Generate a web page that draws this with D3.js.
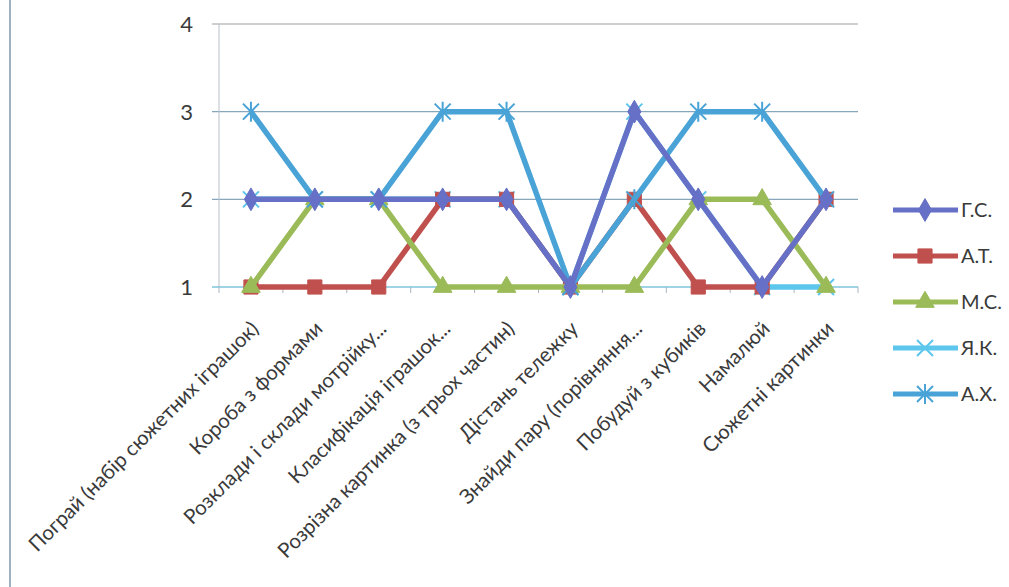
<!DOCTYPE html>
<html>
<head>
<meta charset="utf-8">
<script src="https://cdn.jsdelivr.net/npm/d3@7"></script>
<style>
  body { margin: 0; background: #fff; }
  text { font-family: Lato, "Open Sans", sans-serif; fill: #3a3a3a; }
</style>
</head>
<body>
<svg id="chart" width="1009" height="587"></svg>
<script>
const categories = [
    "Пограй (набір сюжетних іграшок)",
    "Короба з формами",
    "Розклади і склади мотрійку...",
    "Класифікація іграшок...",
    "Розрізна картинка (з трьох частин)",
    "Дістань тележку",
    "Знайди пару (порівняння...",
    "Побудуй з кубиків",
    "Намалюй",
    "Сюжетні картинки"
];
const seriesNames = ["Г.С.", "А.Т.", "М.С.", "Я.К.", "А.Х."];
const gsValues = [2, 2, 2, 2, 2, 1, 3, 2, 1, 2];
const atValues = [1, 1, 1, 2, 2, 1, 2, 1, 1, 2];
const msValues = [1, 2, 2, 1, 1, 1, 1, 2, 2, 1];
const ykValues = [2, 2, 2, 2, 2, 1, 3, 2, 1, 1];
const ahValues = [3, 2, 2, 3, 3, 1, 2, 3, 3, 2];
const yTicks = [1, 2, 3, 4];

const series = [
    { name: seriesNames[0], values: gsValues, color: '#6670c6', marker: 'diamond' },
    { name: seriesNames[1], values: atValues, color: '#c0504d', marker: 'square' },
    { name: seriesNames[2], values: msValues, color: '#9bbb59', marker: 'triangle' },
    { name: seriesNames[3], values: ykValues, color: '#5cc6ec', marker: 'x' },
    { name: seriesNames[4], values: ahValues, color: '#4aa3d6', marker: 'star' }
];
// order the lines are painted in (purple path stays on top like in the scan)
const drawOrder = [3, 1, 2, 4, 0];

const svg = d3.select('#chart');
const plot = { left: 219, right: 858, top: 24, bottom: 287 };

const x = d3.scaleBand().domain(categories).range([plot.left, plot.right]);
const y = d3.scaleLinear().domain([1, 4]).range([plot.bottom, plot.top]);
const cx = (c) => x(c) + x.bandwidth() / 2;

// left frame edge of the scanned page
svg.append('line')
    .attr('x1', 10).attr('x2', 10).attr('y1', 0).attr('y2', 587)
    .attr('stroke', '#9fb0c0').attr('stroke-width', 2);

// gridlines
svg.append('g').selectAll('line')
    .data(yTicks.filter(t => t > 1))
    .enter().append('line')
    .attr('x1', 212).attr('x2', plot.right)
    .attr('y1', d => y(d)).attr('y2', d => y(d))
    .attr('stroke', d => d === 4 ? '#a0a0a0' : '#86a6bc')
    .attr('stroke-width', 1.2);

// vertical axis
svg.append('line')
    .attr('x1', plot.left).attr('x2', plot.left)
    .attr('y1', plot.top).attr('y2', plot.bottom)
    .attr('stroke', '#b8c0c8').attr('stroke-width', 1);

// baseline and category ticks
svg.append('line')
    .attr('x1', 212).attr('x2', plot.right)
    .attr('y1', plot.bottom).attr('y2', plot.bottom)
    .attr('stroke', '#7fc6df').attr('stroke-width', 1.5);
svg.append('g').selectAll('line')
    .data(d3.range(categories.length + 1))
    .enter().append('line')
    .attr('x1', i => plot.left + i * x.bandwidth())
    .attr('x2', i => plot.left + i * x.bandwidth())
    .attr('y1', plot.bottom).attr('y2', plot.bottom + 6)
    .attr('stroke', '#a8b4c0');

// y labels
svg.append('g').selectAll('text')
    .data(yTicks)
    .enter().append('text')
    .attr('x', 193).attr('y', d => y(d))
    .attr('dy', '0.36em')
    .attr('text-anchor', 'end')
    .style('font-size', '22px')
    .text(d => d);

// x labels, rotated
svg.append('g').selectAll('text')
    .data(categories)
    .enter().append('text')
    .attr('transform', d => `translate(${cx(d) + 9},${plot.bottom + 43}) rotate(-45)`)
    .attr('text-anchor', 'end')
    .style('font-size', '20.5px')
    .text(d => d);

function markerPath(type) {
    switch (type) {
        case 'diamond': return d3.symbol(d3.symbolDiamond, 150)();
        case 'square': return d3.symbol(d3.symbolSquare, 200)();
        case 'triangle': return d3.symbol(d3.symbolTriangle, 150)();
        case 'x': return 'M-8,-8L8,8M-8,8L8,-8';
        case 'star': return 'M-8,-8L8,8M-8,8L8,-8M0,-10L0,10';
    }
}
const stroked = (t) => t === 'x' || t === 'star';

const line = d3.line()
    .x((d, i) => cx(categories[i]))
    .y(d => y(d));

drawOrder.forEach(k => {
    const s = series[k];
    const g = svg.append('g');
    g.append('path')
        .attr('d', line(s.values))
        .attr('fill', 'none')
        .attr('stroke', s.color)
        .attr('stroke-width', 5.5)
        .attr('stroke-linejoin', 'round');
    g.selectAll('path.mk')
        .data(s.values)
        .enter().append('path')
        .attr('class', 'mk')
        .attr('transform', (d, i) => `translate(${cx(categories[i])},${y(d)})`)
        .attr('d', markerPath(s.marker))
        .attr('fill', stroked(s.marker) ? 'none' : s.color)
        .attr('stroke', s.color)
        .attr('stroke-width', stroked(s.marker) ? 2 : 1);
});

// legend
const legend = svg.append('g');
series.forEach((s, i) => {
    const ly = 210 + i * 46;
    const item = legend.append('g');
    item.append('line')
        .attr('x1', 893).attr('x2', 958).attr('y1', ly).attr('y2', ly)
        .attr('stroke', s.color).attr('stroke-width', 5);
    item.append('path')
        .attr('transform', `translate(925,${ly})`)
        .attr('d', markerPath(s.marker))
        .attr('fill', stroked(s.marker) ? 'none' : s.color)
        .attr('stroke', s.color)
        .attr('stroke-width', stroked(s.marker) ? 2 : 1);
    item.append('text')
        .attr('x', 961).attr('y', ly).attr('dy', '0.36em')
        .style('font-size', '20px')
        .text(s.name);
});
</script>
</body>
</html>
